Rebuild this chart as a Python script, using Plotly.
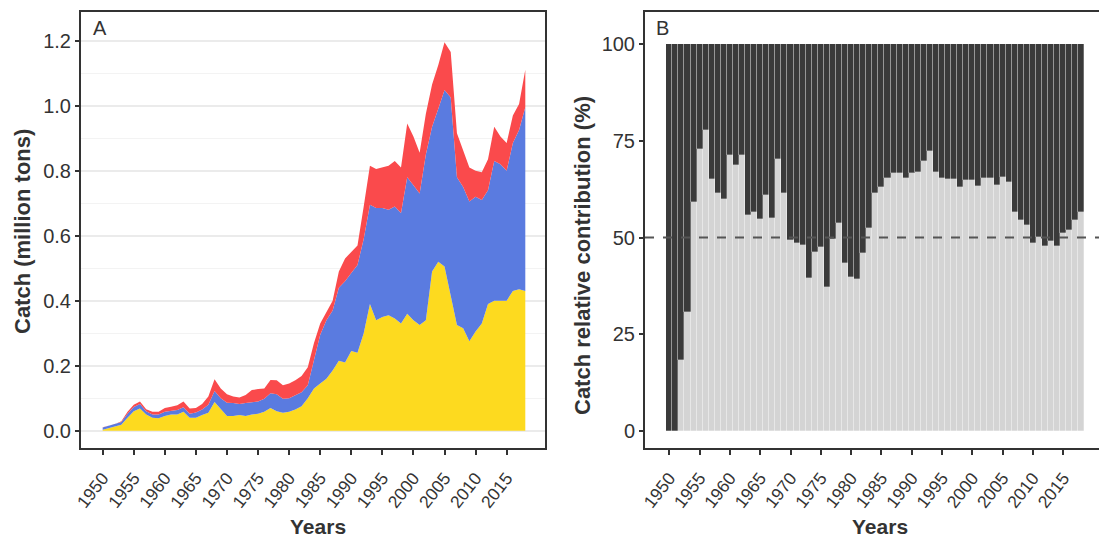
import plotly.graph_objects as go

W, H = 1099, 537

years = list(range(1950, 2019))

# Panel A: catch (million tons) by group, stacked (yellow bottom, blue middle, red top)
catch_yellow = [0.003, 0.008, 0.012, 0.018, 0.040, 0.060, 0.068, 0.050, 0.040, 0.038,
                0.045, 0.050, 0.050, 0.058, 0.040, 0.040, 0.048, 0.055, 0.088, 0.065,
                0.045, 0.045, 0.048, 0.045, 0.050, 0.052, 0.058, 0.070, 0.060, 0.055,
                0.058, 0.065, 0.075, 0.100, 0.130, 0.145, 0.160, 0.185, 0.215, 0.210,
                0.245, 0.240, 0.300, 0.390, 0.340, 0.350, 0.355, 0.345, 0.330, 0.360,
                0.340, 0.325, 0.340, 0.490, 0.520, 0.505, 0.410, 0.325, 0.315, 0.275,
                0.305, 0.330, 0.390, 0.400, 0.400, 0.400, 0.430, 0.435, 0.430]
catch_blue = [0.007, 0.007, 0.008, 0.009, 0.012, 0.013, 0.014, 0.010, 0.010, 0.012,
              0.013, 0.012, 0.014, 0.014, 0.012, 0.016, 0.017, 0.025, 0.034, 0.035,
              0.041, 0.040, 0.034, 0.040, 0.038, 0.038, 0.040, 0.045, 0.052, 0.043,
              0.042, 0.043, 0.043, 0.040, 0.085, 0.150, 0.180, 0.185, 0.225, 0.250,
              0.240, 0.270, 0.290, 0.305, 0.345, 0.335, 0.325, 0.345, 0.340, 0.420,
              0.415, 0.405, 0.510, 0.445, 0.470, 0.543, 0.615, 0.455, 0.435, 0.430,
              0.415, 0.380, 0.350, 0.430, 0.420, 0.400, 0.455, 0.490, 0.565]
catch_red = [0.001, 0.001, 0.001, 0.002, 0.006, 0.007, 0.008, 0.006, 0.008, 0.008,
             0.012, 0.012, 0.014, 0.018, 0.016, 0.014, 0.017, 0.025, 0.036, 0.030,
             0.026, 0.020, 0.020, 0.025, 0.037, 0.038, 0.032, 0.041, 0.043, 0.042,
             0.045, 0.047, 0.050, 0.055, 0.055, 0.035, 0.025, 0.030, 0.050, 0.070,
             0.065, 0.060, 0.100, 0.120, 0.120, 0.125, 0.135, 0.140, 0.140, 0.165,
             0.150, 0.125, 0.125, 0.130, 0.135, 0.147, 0.140, 0.135, 0.115, 0.105,
             0.080, 0.085, 0.095, 0.105, 0.085, 0.085, 0.085, 0.080, 0.115]

# Panel B: relative contribution (%) of the light-grey group; the rest is dark grey
contrib_light = [0, 0, 18.3, 30.8, 59.3, 73, 77.8, 65, 61.4, 60,
                 71.3, 68.7, 71.3, 55.8, 56.7, 54.8, 61, 55, 70.3, 61.6,
                 49.3, 48.5, 48, 39.5, 46.3, 47.6, 37.1, 49.5, 53.8, 43.5,
                 39.9, 39.2, 45.9, 52.4, 61.4, 63, 65.5, 66.6, 66.6, 65.3,
                 66.6, 67, 69.8, 72.4, 67, 65.5, 65, 65, 63.1, 64.9,
                 64.9, 63.3, 65.3, 65.3, 63.6, 65.7, 64.4, 56.7, 54.5, 53.2,
                 48.5, 50.2, 47.8, 49.1, 47.8, 51.2, 52, 54.5, 56.7]
contrib_dark = [100 - v for v in contrib_light]

x_ticks = list(range(1950, 2016, 5))
yA_ticks = [0.0, 0.2, 0.4, 0.6, 0.8, 1.0, 1.2]
yA_labels = ["0.0", "0.2", "0.4", "0.6", "0.8", "1.0", "1.2"]
yB_ticks = [0, 25, 50, 75, 100]

YELLOW = "#FDDA1F"
BLUE = "#5A7BE0"
RED = "#FA4A4C"
DARK = "#3A3A3A"
LIGHT = "#D4D4D4"
AX = "#333333"
FONT = "Liberation Sans, Arial, sans-serif"

fig = go.Figure()

for vals, col in [(catch_yellow, YELLOW), (catch_blue, BLUE), (catch_red, RED)]:
    fig.add_trace(go.Scatter(x=years, y=vals, stackgroup="a", mode="lines",
                             line=dict(width=0, color=col), fillcolor=col,
                             xaxis="x", yaxis="y", showlegend=False, hoverinfo="skip"))

sep = dict(width=0.6, color="rgba(255,255,255,0.45)")
fig.add_trace(go.Bar(x=years, y=contrib_light, marker=dict(color=LIGHT, line=sep),
                     xaxis="x2", yaxis="y2", showlegend=False))
fig.add_trace(go.Bar(x=years, y=contrib_dark, marker=dict(color=DARK, line=sep),
                     xaxis="x2", yaxis="y2", showlegend=False))

def px(xp):
    return xp / W

def py(yp):
    return 1 - yp / H

ydom = [py(448), py(12)]

tickfont_x = dict(family=FONT, size=17.5, color=AX)
tickfont_y = dict(family=FONT, size=20, color=AX)

fig.update_layout(
    width=W, height=H,
    margin=dict(l=0, r=0, t=0, b=0),
    paper_bgcolor="white", plot_bgcolor="white",
    barmode="stack", bargap=0.0,
    font=dict(family=FONT, color=AX),
    xaxis=dict(domain=[px(81), px(545)], range=[1946.51, 2021.17],
               tickmode="array", tickvals=x_ticks, ticktext=[str(t) for t in x_ticks],
               tickangle=-52, tickfont=tickfont_x, ticks="outside", ticklen=5,
               ticklabelstandoff=6,
               tickwidth=2, tickcolor=AX, showgrid=False, zeroline=False,
               showline=True, linewidth=2, linecolor=AX, mirror=True, automargin=False),
    yaxis=dict(domain=ydom, range=[-0.0532, 1.288],
               tickmode="array", tickvals=yA_ticks, ticktext=yA_labels,
               tickfont=tickfont_y, ticks="outside", ticklen=4, tickwidth=2, tickcolor=AX,
               showgrid=True, gridcolor="#EBEBEB", gridwidth=1.6,
               minor=dict(tickvals=[0.1, 0.3, 0.5, 0.7, 0.9, 1.1], showgrid=True,
                          gridcolor="#F3F3F3", gridwidth=1.2, ticks=""),
               zeroline=False, showline=True, linewidth=2, linecolor=AX, mirror=True,
               automargin=False),
    xaxis2=dict(domain=[px(645), 1.0], range=[1945.99, 2020.9],
                tickmode="array", tickvals=x_ticks, ticktext=[str(t) for t in x_ticks],
                tickangle=-52, tickfont=tickfont_x, ticks="outside", ticklen=5,
                ticklabelstandoff=6,
                tickwidth=2, tickcolor=AX, showgrid=False, zeroline=False,
                showline=True, linewidth=2, linecolor=AX, mirror=True,
                anchor="y2", automargin=False),
    yaxis2=dict(domain=ydom, range=[-4.39, 108.27],
                tickmode="array", tickvals=yB_ticks, ticktext=[str(t) for t in yB_ticks],
                tickfont=tickfont_y, ticks="outside", ticklen=4, tickwidth=2, tickcolor=AX,
                showgrid=False, zeroline=False, showline=True, linewidth=2,
                linecolor=AX, mirror=False, anchor="x2", automargin=False),
)

# dashed 50% reference line
fig.add_shape(type="line", xref="x2 domain", yref="y2", x0=0, x1=1, y0=50, y1=50,
              line=dict(color="#555555", width=2, dash="dash"))

ann = [
    dict(text="A", x=px(100), y=py(28), size=20, bold=False, angle=0),
    dict(text="B", x=px(662), y=py(28), size=20, bold=False, angle=0),
    dict(text="Catch (million tons)", x=px(22), y=py(232), size=22, bold=True, angle=-90),
    dict(text="Catch relative contribution (%)", x=px(583), y=py(256), size=22, bold=True, angle=-90),
    dict(text="Years", x=px(318), y=py(526), size=21, bold=True, angle=0),
    dict(text="Years", x=px(880), y=py(526), size=21, bold=True, angle=0),
]
for a in ann:
    t = "<b>%s</b>" % a["text"] if a["bold"] else a["text"]
    fig.add_annotation(text=t, x=a["x"], y=a["y"], xref="paper", yref="paper",
                       showarrow=False, textangle=a["angle"], xanchor="center", yanchor="middle",
                       font=dict(family=FONT, size=a["size"], color=AX))

fig.write_html("out.html", config={"displayModeBar": False},
               post_script="document.body.style.margin='0';document.body.style.overflow='hidden';")
